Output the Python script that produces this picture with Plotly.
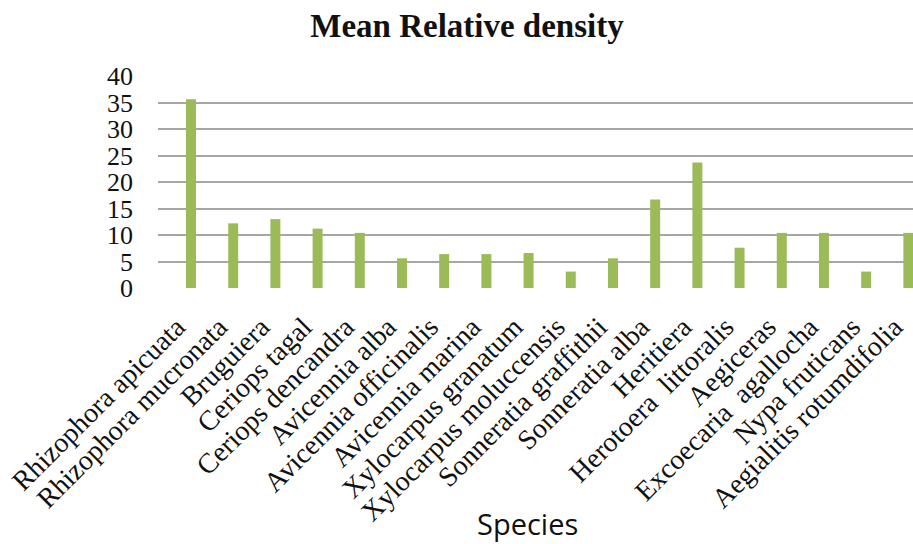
import plotly.graph_objects as go

# Mangrove species and their mean relative density (%)
species = [
    "Rhizophora apicuata",
    "Rhizophora mucronata",
    "Bruguiera",
    "Ceriops tagal",
    "Ceriops dencandra",
    "Avicennia alba",
    "Avicennia officinalis",
    "Avicennia marina",
    "Xylocarpus granatum",
    "Xylocarpus moluccensis",
    "Sonneratia graffithii",
    "Sonneratia alba",
    "Heritiera",
    "Herotoera\u00a0 littoralis",
    "Aegiceras",
    "Excoecaria\u00a0 agallocha",
    "Nypa fruticans",
    "Aegialitis rotumdifolia",
]
mean_relative_density = [
    35.6, 12.2, 13.0, 11.2, 10.4, 5.6, 6.4, 6.4, 6.6,
    3.1, 5.6, 16.7, 23.7, 7.6, 10.4, 10.4, 3.1, 10.4,
]
y_ticks = [0, 5, 10, 15, 20, 25, 30, 35, 40]

fig = go.Figure(
    go.Bar(
        x=species,
        y=mean_relative_density,
        marker=dict(color="#9BBB59", line=dict(width=0)),
    )
)

fig.update_layout(
    width=913,
    height=544,
    margin=dict(l=158, r=0, t=76, b=256),
    paper_bgcolor="white",
    plot_bgcolor="white",
    bargap=0.763,
    showlegend=False,
    title=dict(
        text="<b>Mean Relative density</b>",
        font=dict(family="Liberation Serif", size=33, color="#111111"),
        xref="container", x=467 / 913, xanchor="center",
        yref="container", y=1 - 25 / 544, yanchor="middle",
    ),
)

fig.update_xaxes(
    type="category",
    categoryorder="array",
    categoryarray=species,
    range=[-0.782, 17.11],
    tickangle=-45,
    tickfont=dict(family="Liberation Serif", size=28, color="#111111"),
    showgrid=False,
    showline=False,
    zeroline=False,
    ticks="",
    ticklabelstandoff=16,
    ticklabelshift=-14,
)

fig.update_yaxes(
    range=[0, 40],
    tickvals=y_ticks,
    tickfont=dict(family="Liberation Serif", size=26, color="#111111"),
    showgrid=True,
    gridcolor="#a6a6a6",
    gridwidth=2,
    showline=False,
    zeroline=False,
    ticks="",
    ticklabelstandoff=24,
)

fig.add_annotation(
    text="Species",
    xref="paper", yref="paper",
    x=(527 - 158) / 755, y=(288 - 523) / 212,
    xanchor="center", yanchor="middle",
    showarrow=False,
    font=dict(family="Open Sans", size=29, color="#111111"),
)

fig.write_html("out.html")
